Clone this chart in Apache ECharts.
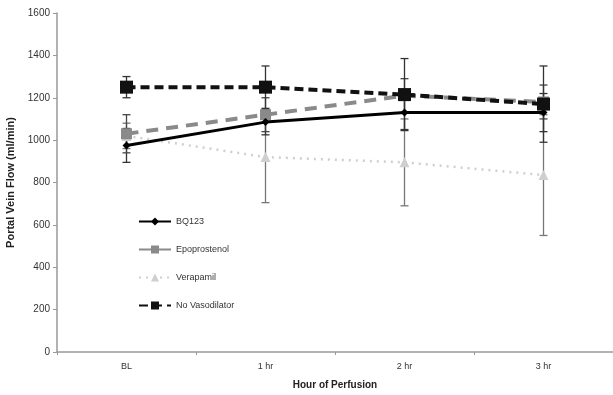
<!DOCTYPE html>
<html>
<head>
<meta charset="utf-8">
<script src="https://cdn.jsdelivr.net/npm/echarts@6/dist/echarts.min.js"></script>
<style>
  html, body { margin: 0; padding: 0; background: #fff; }
  #chart { width: 613px; height: 395px; }
</style>
</head>
<body>
<div id="chart"></div>
<script>
const hours = ['BL', '1 hr', '2 hr', '3 hr'];

const bq123 = [975, 1085, 1130, 1130];
const bq123Err = [80, 60, 80, 90];
const epoprostenol = [1030, 1120, 1210, 1180];
const epoprostenolErr = [90, 80, 80, 80];
const verapamil = [1020, 920, 895, 835];
const verapamilErr = [60, 215, 205, 285];
const noVaso = [1250, 1250, 1215, 1170];
const noVasoErr = [50, 100, 170, 180];

const chart = echarts.init(document.getElementById('chart'));

// error bars drawn with a custom series: [x index, low, high]
function errorSeries(name, vals, errs, color) {
  return {
    type: 'custom',
    name: name,
    silent: true,
    z: 1,
    renderItem: function (params, api) {
      const x = api.value(0);
      const lo = api.coord([x, api.value(1)]);
      const hi = api.coord([x, api.value(2)]);
      const cap = 4;
      const style = { stroke: color, lineWidth: 1.3 };
      return {
        type: 'group',
        children: [
          { type: 'line', shape: { x1: lo[0], y1: lo[1], x2: hi[0], y2: hi[1] }, style: style },
          { type: 'line', shape: { x1: lo[0] - cap, y1: lo[1], x2: lo[0] + cap, y2: lo[1] }, style: style },
          { type: 'line', shape: { x1: hi[0] - cap, y1: hi[1], x2: hi[0] + cap, y2: hi[1] }, style: style }
        ]
      };
    },
    encode: { x: 0, y: [1, 2] },
    data: vals.map((v, i) => [i, v - errs[i], v + errs[i]])
  };
}

const option = {
  animation: false,
  grid: { left: 57, right: 0, top: 13, bottom: 43, outerBoundsMode: 'none' },
  legend: {
    orient: 'vertical',
    left: 133,
    top: 212,
    itemGap: 19,
    itemWidth: 32,
    itemHeight: 10,
    textStyle: { fontFamily: 'Liberation Sans', fontSize: 9, color: '#333' },
    data: ['BQ123', 'Epoprostenol', 'Verapamil', 'No Vasodilator']
  },
  xAxis: {
    type: 'category',
    data: hours,
    name: 'Hour of Perfusion',
    nameLocation: 'middle',
    nameGap: 28,
    nameTextStyle: { fontFamily: 'Liberation Sans', fontWeight: 'bold', fontSize: 10, color: '#222' },
    axisLine: { lineStyle: { color: '#999', width: 1.5 } },
    axisTick: { show: true, inside: false, length: 3, lineStyle: { color: '#999' } },
    axisLabel: { fontFamily: 'Liberation Sans', fontSize: 9, color: '#333', margin: 10 }
  },
  yAxis: {
    type: 'value',
    min: 0,
    max: 1600,
    interval: 200,
    name: 'Portal Vein Flow (ml/min)',
    nameLocation: 'middle',
    nameGap: 38,
    nameRotate: 90,
    nameTextStyle: { fontFamily: 'Liberation Sans', fontWeight: 'bold', fontSize: 11, color: '#222' },
    axisLine: { show: true, lineStyle: { color: '#999', width: 1.5 } },
    axisTick: { show: true, length: 4, lineStyle: { color: '#999' } },
    axisLabel: { fontFamily: 'Liberation Sans', fontSize: 10, color: '#333', margin: 7, formatter: v => String(v) },
    splitLine: { show: false }
  },
  series: [
    errorSeries('verapamilErr', verapamil, verapamilErr, '#777'),
    errorSeries('bq123Err', bq123, bq123Err, '#333'),
    errorSeries('epoErr', epoprostenol, epoprostenolErr, '#444'),
    errorSeries('noVasoErr', noVaso, noVasoErr, '#333'),
    {
      name: 'Verapamil',
      type: 'line',
      data: verapamil,
      z: 2,
      symbol: 'triangle',
      symbolSize: 10,
      lineStyle: { color: '#cfcfcf', width: 2.5, type: [2, 5] },
      itemStyle: { color: '#cfcfcf' }
    },
    {
      name: 'Epoprostenol',
      type: 'line',
      data: epoprostenol,
      z: 3,
      symbol: 'rect',
      symbolSize: 11,
      lineStyle: { color: '#8a8a8a', width: 4, type: [12, 8] },
      itemStyle: { color: '#8a8a8a' }
    },
    {
      name: 'BQ123',
      type: 'line',
      data: bq123,
      z: 4,
      symbol: 'diamond',
      symbolSize: 8,
      lineStyle: { color: '#000', width: 3 },
      itemStyle: { color: '#000' }
    },
    {
      name: 'No Vasodilator',
      type: 'line',
      data: noVaso,
      z: 5,
      symbol: 'rect',
      symbolSize: 13,
      lineStyle: { color: '#111', width: 4, type: [9, 5] },
      itemStyle: { color: '#111' }
    }
  ]
};

chart.setOption(option);
</script>
</body>
</html>
